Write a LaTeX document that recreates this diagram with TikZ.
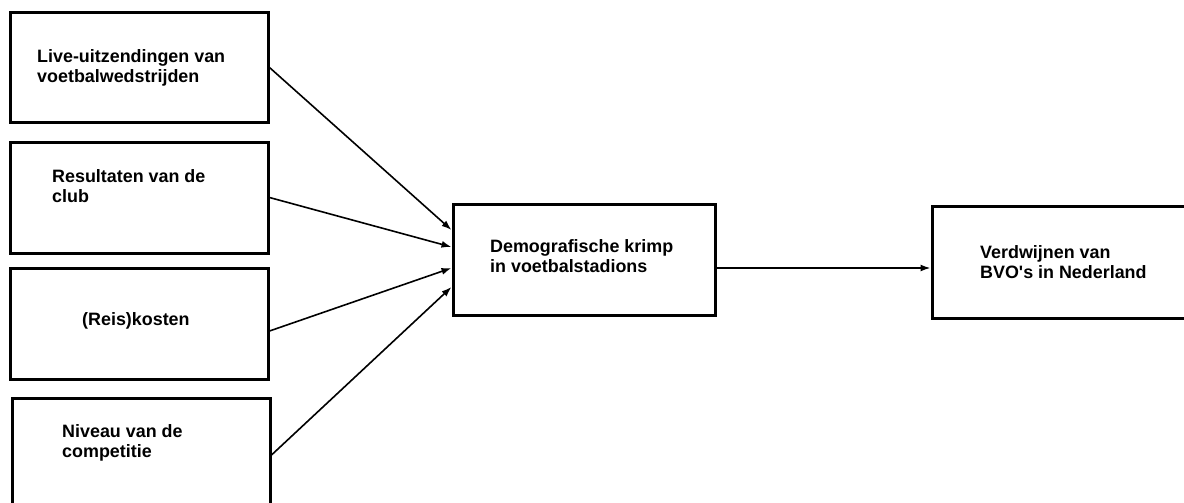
\documentclass[tikz,border=0pt]{standalone}
\usepackage{fontspec}
\setmainfont{Liberation Sans}
\usetikzlibrary{arrows.meta,calc}

\tikzset{
  box/.style={draw=black,line width=3pt,inner sep=0pt},
  txt/.style={font=\fontsize{17.9}{19.5}\selectfont\bfseries,align=left,inner sep=0pt,anchor=base west},
  arr/.style={line width=1.6pt,-{Latex[length=10pt,width=7pt]}}
}

\begin{document}
\begin{tikzpicture}[x=1pt,y=-1pt]
\useasboundingbox (0,0) rectangle (1184,503);

% Define the boxes.
\node[box,minimum width=258pt,minimum height=109pt] (A) at (139,67.5) {};
\node[box,minimum width=258pt,minimum height=111pt] (B) at (139,197.5) {};
\node[box,minimum width=258pt,minimum height=111pt] (C) at (139,323.5) {};
\node[box,minimum width=258pt,minimum height=114pt] (D) at (141,455) {};
\node[box,minimum width=262pt,minimum height=111pt] (M) at (584,259.5) {};
\node[box,minimum width=300pt,minimum height=112pt] (R) at (1082,262) {};

% Texts in the boxes (base = last line).
\node[txt] (At) at (37,82) {Live-uitzendingen van\\voetbalwedstrijden};
\node[txt] (Bt) at (52,202) {Resultaten van de\\club};
\node[txt] (Ct) at (82,325) {(Reis)kosten};
\node[txt] (Dt) at (62,457) {Niveau van de\\competitie};
\node[txt] (Mt) at (490,272) {Demografische krimp\\in voetbalstadions};
\node[txt] (Rt) at (980,278) {Verdwijnen van\\BVO\textquotesingle s in Nederland};

\draw[arr] (A.east) -- ([yshift=29.5pt]M.west);
\draw[arr] (B.east) -- ([yshift=12.5pt]M.west);
\draw[arr] ([yshift=-7.5pt]C.east) -- ([yshift=-8.5pt]M.west);
\draw[arr] (D.east) -- ([yshift=-27.5pt]M.west);

\draw[arr] ([yshift=-8.5pt]M.east) -- ([yshift=-8.5pt]M.east -| R.west);

\end{tikzpicture}
\end{document}
